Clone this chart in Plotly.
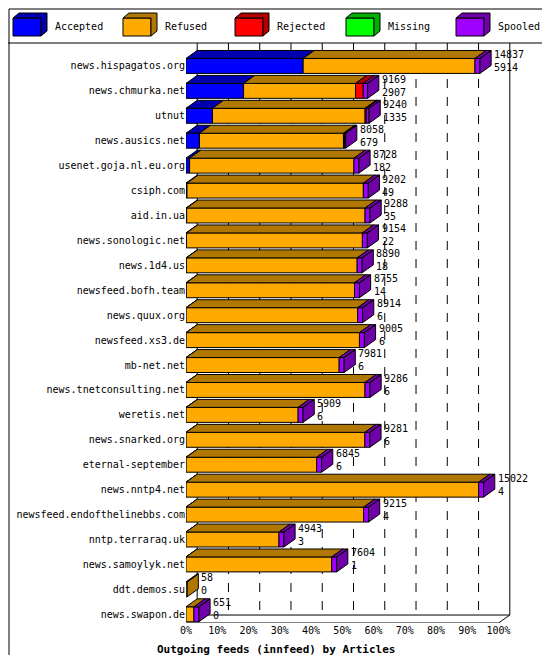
import plotly.graph_objects as go

hosts = ["news.hispagatos.org", "news.chmurka.net", "utnut", "news.ausics.net",
         "usenet.goja.nl.eu.org", "csiph.com", "aid.in.ua", "news.sonologic.net",
         "news.1d4.us", "newsfeed.bofh.team", "news.quux.org", "newsfeed.xs3.de",
         "mb-net.net", "news.tnetconsulting.net", "weretis.net", "news.snarked.org",
         "eternal-september", "news.nntp4.net", "newsfeed.endofthelinebbs.com",
         "nntp.terraraq.uk", "news.samoylyk.net", "ddt.demos.su", "news.swapon.de"]
totals = [14837, 9169, 9240, 8058, 8728, 9202, 9288, 9154, 8890, 8755, 8914, 9005,
          7981, 9286, 5909, 9281, 6845, 15022, 9215, 4943, 7604, 58, 651]
accepted = [5914, 2907, 1335, 679, 182, 49, 35, 22, 18, 14, 6, 6,
            6, 6, 6, 6, 6, 4, 4, 3, 1, 0, 0]
rejected = [0, 380, 50, 50, 0, 0, 0, 0, 0, 0, 0, 0,
            0, 0, 0, 0, 0, 0, 0, 0, 0, 0, 0]
spooled = [250, 230, 150, 60, 250, 250, 250, 250, 250, 250, 250, 250,
           250, 250, 250, 250, 250, 250, 250, 250, 250, 0, 250]
refused = [t - a - r - s for t, a, r, s in zip(totals, accepted, rejected, spooled)]

full = 15780          # value shown as 100%
dx, dy, h = 565, 0.32, 0.6
front = {"acc": "#0000ff", "ref": "#ffaa00", "rej": "#ff0000", "spo": "#a000ff"}
dark = {"acc": "#0000b0", "ref": "#b07800", "rej": "#b00000", "spo": "#7000a8"}

polys = {}
def add(color, xs, ys):
    p = polys.setdefault(color, ([], []))
    p[0].extend(xs + [xs[0], None])
    p[1].extend(ys + [ys[0], None])

for i in range(len(hosts)):
    segs = [("acc", accepted[i]), ("ref", refused[i]), ("rej", rejected[i]), ("spo", spooled[i])]
    segs = [s for s in segs if s[1] > 0]
    x0 = 0
    yt, yb = i - h / 2, i + h / 2
    for k, (key, v) in enumerate(segs):
        x1 = x0 + v
        add(front[key], [x0, x1, x1, x0], [yt, yt, yb, yb])
        add(dark[key], [x0, x1, x1 + dx, x0 + dx], [yt, yt, yt - dy, yt - dy])
        if k == len(segs) - 1:
            add(dark[key], [x1, x1, x1 + dx, x1 + dx], [yt, yb, yb - dy, yt - dy])
        x0 = x1

fig = go.Figure()
ybot = len(hosts) - 1 + 0.35
# dashed back grid
for k in range(1, 11):
    xv = k * full / 10 + dx
    fig.add_trace(go.Scatter(x=[xv, xv], y=[-0.92, ybot - dy], mode="lines",
                             line=dict(color="black", width=1, dash="dash" if k < 10 else "solid"),
                             hoverinfo="skip", showlegend=False))
# floor
fig.add_trace(go.Scatter(x=[-dx, 0, full, full + dx, dx, dx], y=[ybot + dy*0.6, ybot, ybot, ybot - dy, ybot - dy, -0.92],
                         mode="lines", line=dict(color="black", width=1), hoverinfo="skip", showlegend=False))
for color, (xs, ys) in polys.items():
    fig.add_trace(go.Scatter(x=xs, y=ys, fill="toself", fillcolor=color, mode="lines",
                             line=dict(color="black", width=1), hoverinfo="skip", showlegend=False))

for i, (t, a) in enumerate(zip(totals, accepted)):
    fig.add_annotation(x=t + dx, y=i - 0.2, text=f"{t}<br>{a}", showarrow=False,
                       xanchor="left", yanchor="middle", align="left", xshift=1,
                       font=dict(size=10, color="black"))

legend = [("Accepted", "#0000ff", "#0000b0"), ("Refused", "#ffaa00", "#b07800"),
          ("Rejected", "#ff0000", "#b00000"), ("Missing", "#00ff00", "#00b000"),
          ("Spooled", "#a000ff", "#7000a8")]
lx = [5, 115, 227, 338, 448]
def px(x): return (x - 178) / 335
def py(y): return (615 - y) / 580
for (name, c, c2), x in zip(legend, lx):
    fig.add_shape(type="rect", xref="paper", yref="paper", x0=px(x), x1=px(x + 28),
                  y0=py(28), y1=py(10), fillcolor=c, line=dict(color="black", width=1))
    fig.add_shape(type="path", xref="paper", yref="paper",
                  path=f"M {px(x)},{py(10)} L {px(x+6)},{py(5)} L {px(x+34)},{py(5)} "
                       f"L {px(x+34)},{py(23)} L {px(x+28)},{py(28)} L {px(x+28)},{py(10)} Z",
                  fillcolor=c2, line=dict(color="black", width=1))
    fig.add_annotation(xref="paper", yref="paper", x=px(x + 40), y=py(19),
                       text=name, showarrow=False, xanchor="left", yanchor="middle",
                       font=dict(size=10, color="black"))
fig.add_shape(type="line", xref="paper", yref="paper", x0=px(0), x1=px(550),
              y0=py(35), y1=py(35), line=dict(color="black", width=1))
fig.add_shape(type="rect", xref="paper", yref="paper", x0=px(1), x1=px(549),
              y0=py(654), y1=py(1), line=dict(color="black", width=1))
fig.add_annotation(xref="paper", yref="paper", x=px(147), y=py(641),
                   text="<b>Outgoing feeds (innfeed) by Articles</b>", showarrow=False,
                   xanchor="left", yanchor="middle", font=dict(size=11, color="black"))

fig.update_layout(
    width=550, height=655, margin=dict(l=178, r=37, t=35, b=40),
    plot_bgcolor="white", paper_bgcolor="white",
    font=dict(family="DejaVu Sans Mono", size=10, color="black"),
    xaxis=dict(range=[0, full + 2 * dx], tickvals=[k * full / 10 for k in range(11)],
               ticktext=[f"{k*10}%" for k in range(11)], showgrid=False, zeroline=False,
               ticks="", automargin=False, tickfont=dict(size=10)),
    yaxis=dict(range=[ybot, -0.92], tickvals=list(range(len(hosts))), ticktext=hosts,
               showgrid=False, zeroline=False, ticks="", showline=False, automargin=False,
               tickfont=dict(size=10)),
)
fig.write_html("out.html")
